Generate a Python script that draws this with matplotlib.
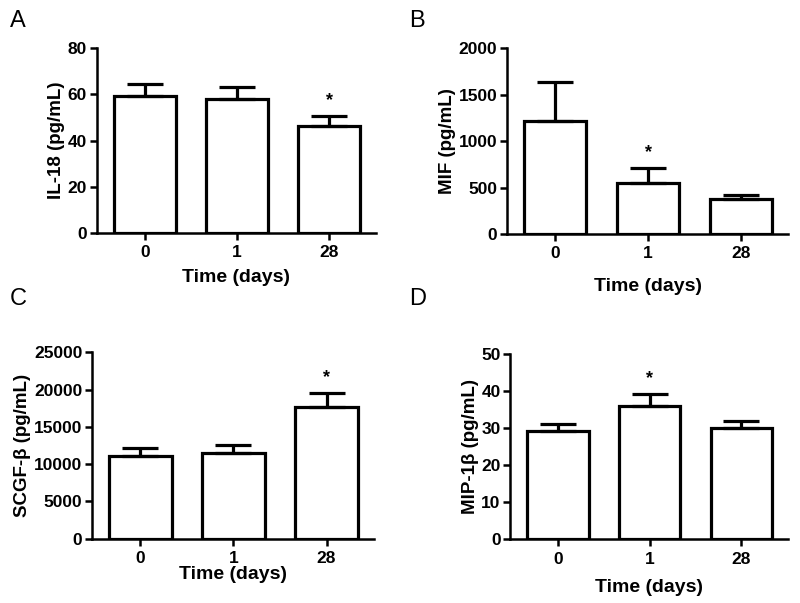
import matplotlib
matplotlib.use('Agg')
import matplotlib.pyplot as plt

plt.rcParams['font.family'] = ['Liberation Sans', 'DejaVu Sans']

# Data
days = ['0', '1', '28']

il18_mean = [59.2, 57.8, 46.4]
il18_sem = [5.4, 5.2, 4.1]

mif_mean = [1212, 545, 373]
mif_sem = [426, 165, 43]

scgf_mean = [11130, 11450, 17700]
scgf_sem = [1070, 1070, 1800]

mip_mean = [29.1, 35.9, 30.0]
mip_sem = [2.0, 3.3, 1.9]

panels = [
    ('A', 'IL-18 (pg/mL)', il18_mean, il18_sem, 80, 20, [2], [0.121, 0.6136, 0.349, 0.3065], 6),
    ('B', 'MIF (pg/mL)', mif_mean, mif_sem, 2000, 500, [1], [0.634, 0.612, 0.351, 0.308], 12),
    ('C', 'SCGF-β (pg/mL)', scgf_mean, scgf_sem, 25000, 5000, [2], [0.115, 0.1066, 0.3525, 0.3092], 0),
    ('D', 'MIP-1β (pg/mL)', mip_mean, mip_sem, 50, 10, [1], [0.638, 0.1057, 0.347, 0.3073], 9),
]
letter_pos = {'A': (0.012, 0.983), 'B': (0.512, 0.983), 'C': (0.012, 0.523), 'D': (0.512, 0.523)}

fig = plt.figure(figsize=(8, 6.03), dpi=100)
lw = 2.3

for letter, ylabel, means, sems, ymax, step, stars, rect, xpad in panels:
    ax = fig.add_axes(rect)
    x = list(range(len(days)))
    ax.bar(x, means, width=0.67, color='white', edgecolor='black', linewidth=lw, zorder=2)
    ax.errorbar(x, means, yerr=[[0] * len(sems), sems], fmt='none', ecolor='black',
                elinewidth=lw, capsize=13, capthick=lw, zorder=3)
    for i in stars:
        ax.annotate('*', (i, means[i] + sems[i]), xytext=(0, 5), textcoords='offset points',
                    ha='center', va='bottom', fontsize=13, fontweight='bold')
    ax.set_xlim(-0.52, 2.51)
    ax.set_ylim(0, ymax)
    ax.set_yticks(range(0, ymax + 1, step))
    ax.set_xticks(x)
    ax.set_xticklabels(days)
    for s in ['top', 'right']:
        ax.spines[s].set_visible(False)
    for s in ['left', 'bottom']:
        ax.spines[s].set_linewidth(1.8)
    ax.tick_params(axis='both', direction='out', length=5, width=1.8, labelsize=12.5, pad=2)
    ax.tick_params(axis='x', pad=4)
    for lab in ax.get_xticklabels() + ax.get_yticklabels():
        lab.set_fontweight('bold')
    ax.set_ylabel(ylabel, fontsize=13.5, fontweight='bold', labelpad=2)
    ax.set_xlabel('Time (days)', fontsize=14, fontweight='bold', labelpad=xpad)
    lx, ly = letter_pos[letter]
    fig.text(lx, ly, letter, fontsize=17, ha='left', va='top')

plt.savefig('out.png', dpi=100)
